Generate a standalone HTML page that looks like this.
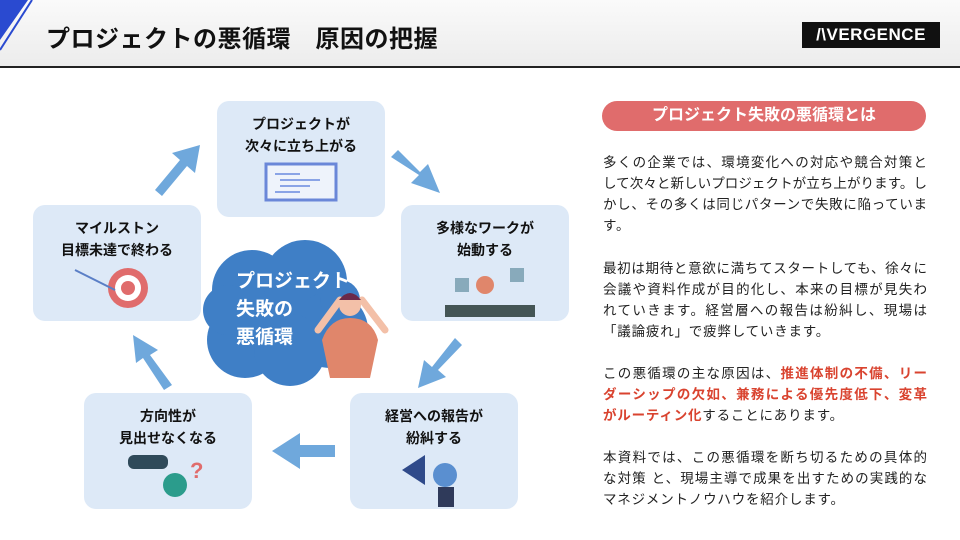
<!DOCTYPE html>
<html><head><meta charset="utf-8"><style>
body{margin:0;width:960px;height:540px;position:relative;background:#fff;font-family:"Liberation Sans","Noto Sans CJK JP",sans-serif;overflow:hidden}
.hdr{position:absolute;left:0;top:0;width:960px;height:66px;background:linear-gradient(#fafafa,#ececec);border-bottom:2px solid #222}
.title{position:absolute;left:46px;top:19px;font-size:24px;font-weight:bold;color:#111;letter-spacing:0.5px}
.logo{position:absolute;left:802px;top:22px;width:138px;height:26px;background:#111;color:#fff;font-size:17px;line-height:26px;text-align:center;font-weight:bold;letter-spacing:0.5px}
.box{position:absolute;width:168px;height:116px;background:#dde9f7;border-radius:12px;text-align:center;font-size:14px;font-weight:bold;color:#111;line-height:22px;box-sizing:border-box;padding-top:12px}
.pill{position:absolute;left:602px;top:101px;width:324px;height:30px;background:#e06c6c;border-radius:15px;color:#fff;font-weight:bold;font-size:16px;line-height:30px;text-align:center}
.l{position:absolute;left:603px;width:324px;height:20px;line-height:20px;font-size:13.5px;color:#222;white-space:nowrap;text-align:justify;text-align-last:justify}
.e{text-align-last:left;letter-spacing:0.8px}
.r{color:#d9432f;font-weight:bold}
</style></head><body>
<div class="hdr"></div>
<svg style="position:absolute;left:0;top:0" width="70" height="66"><polygon points="0,0 28,0 0,40" fill="#2a4ad0"/><line x1="32" y1="0" x2="0" y2="50" stroke="#2a4ad0" stroke-width="2"/></svg>
<div class="title">プロジェクトの悪循環　原因の把握</div>
<div class="logo">/\VERGENCE</div>

<div class="box" style="left:217px;top:101px">プロジェクトが<br>次々に立ち上がる</div>
<div class="box" style="left:401px;top:205px">多様なワークが<br>始動する</div>
<div class="box" style="left:350px;top:393px">経営への報告が<br>紛糾する</div>
<div class="box" style="left:84px;top:393px">方向性が<br>見出せなくなる</div>
<div class="box" style="left:33px;top:205px">マイルストン<br>目標未達で終わる</div>

<svg style="position:absolute;left:0;top:0" width="600" height="540">
<g fill="#6fa8dc">
<polygon points="155,190 180,160 172,153 200,145 195,173 187,166 162,196"/>
<polygon points="398,150 420,172 428,164 440,193 411,183 419,175 391,157"/>
<polygon points="462,345 438,370 446,377 418,388 424,360 432,367 455,338"/>
<polygon points="335,445 300,445 300,433 272,451 300,469 300,457 335,457"/>
<polygon points="172,385 150,355 158,350 133,335 136,363 143,358 164,390"/>
</g>
<rect x="266" y="164" width="70" height="36" fill="#eef3fb" stroke="#6a87d8" stroke-width="3"/>
<g stroke="#8aa4e6" stroke-width="2"><line x1="275" y1="174" x2="300" y2="174"/><line x1="280" y1="180" x2="320" y2="180"/><line x1="280" y1="186" x2="310" y2="186"/><line x1="275" y1="192" x2="300" y2="192"/></g>
<g fill="#3f7fc6">
<circle cx="252" cy="290" r="40"/><circle cx="305" cy="282" r="42"/><circle cx="330" cy="330" r="38"/><circle cx="245" cy="340" r="38"/><circle cx="290" cy="350" r="36"/><circle cx="228" cy="310" r="25"/><circle cx="340" cy="300" r="20"/>
</g>
<text x="236" y="287" fill="#fff" font-size="19" font-weight="bold" font-family="Liberation Sans,Noto Sans CJK JP,sans-serif">プロジェクト</text>
<text x="236" y="315" fill="#fff" font-size="19" font-weight="bold" font-family="Liberation Sans,Noto Sans CJK JP,sans-serif">失敗の</text>
<text x="236" y="343" fill="#fff" font-size="19" font-weight="bold" font-family="Liberation Sans,Noto Sans CJK JP,sans-serif">悪循環</text>
<path d="M322 340 Q330 318 350 318 Q372 318 378 340 L370 378 L330 378 Z" fill="#e0866b"/>
<path d="M318 330 L340 300 M385 330 L362 300" stroke="#f3c0a8" stroke-width="7" stroke-linecap="round"/>
<circle cx="350" cy="305" r="11" fill="#f3c0a8"/>
<path d="M339 300 Q350 286 361 300 Z" fill="#6a2a4a"/>
<circle cx="128" cy="288" r="20" fill="#e06c6c"/><circle cx="128" cy="288" r="13" fill="#fff"/><circle cx="128" cy="288" r="7" fill="#e06c6c"/>
<path d="M75 270 L115 290" stroke="#5a7fc6" stroke-width="2"/>
<rect x="128" y="455" width="40" height="14" rx="6" fill="#2f4a5a"/><circle cx="175" cy="485" r="12" fill="#2b9c8c"/>
<text x="190" y="478" fill="#e06c6c" font-size="22" font-weight="bold">?</text>
<polygon points="402,470 425,455 425,485" fill="#2f4a8a"/><circle cx="445" cy="475" r="12" fill="#5a8fd0"/><rect x="438" y="487" width="16" height="20" fill="#2f3a5a"/>
<rect x="455" y="278" width="14" height="14" fill="#8ab"/><rect x="510" y="268" width="14" height="14" fill="#8ab"/><circle cx="485" cy="285" r="9" fill="#e0866b"/><rect x="445" y="305" width="90" height="12" fill="#455"/>
</svg>

<div class="pill">プロジェクト失敗の悪循環とは</div>
<div class="l" style="top:153px">多くの企業では、環境変化への対応や競合対策と</div>
<div class="l" style="top:174px">して次々と新しいプロジェクトが立ち上がります。し</div>
<div class="l" style="top:195px">かし、その多くは同じパターンで失敗に陥っていま</div>
<div class="l e" style="top:216px">す。</div>
<div class="l" style="top:259px">最初は期待と意欲に満ちてスタートしても、徐々に</div>
<div class="l" style="top:280px">会議や資料作成が目的化し、本来の目標が見失わ</div>
<div class="l" style="top:301px">れていきます。経営層への報告は紛糾し、現場は</div>
<div class="l e" style="top:322px">「議論疲れ」で疲弊していきます。</div>
<div class="l" style="top:364px">この悪循環の主な原因は、<span class="r">推進体制の不備、リー</span></div>
<div class="l" style="top:385px"><span class="r">ダーシップの欠如、兼務による優先度低下、変革</span></div>
<div class="l e" style="top:406px"><span class="r">がルーティン化</span>することにあります。</div>
<div class="l" style="top:448px">本資料では、この悪循環を断ち切るための具体的</div>
<div class="l" style="top:469px">な対策 と、現場主導で成果を出すための実践的な</div>
<div class="l e" style="top:490px">マネジメントノウハウを紹介します。</div>
</body></html>
